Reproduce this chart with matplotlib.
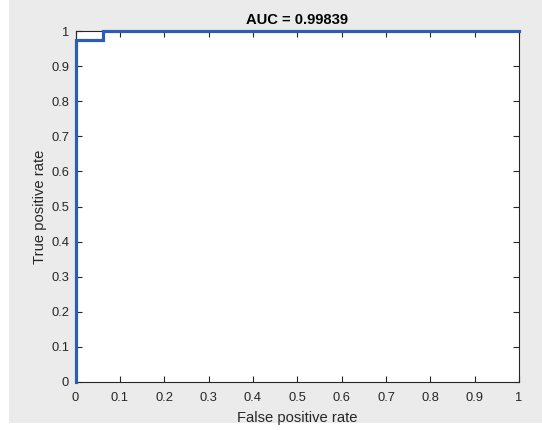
import matplotlib
matplotlib.use('Agg')
import matplotlib.pyplot as plt
from matplotlib.patches import Rectangle

# ROC curve points
fpr = [0.0, 0.0, 0.0625, 0.0625, 1.0]
tpr = [0.0, 0.9742, 0.9742, 1.0, 1.0]
auc = 0.99839
ticks = [0, 0.1, 0.2, 0.3, 0.4, 0.5, 0.6, 0.7, 0.8, 0.9, 1]
tick_labels = ['0', '0.1', '0.2', '0.3', '0.4', '0.5', '0.6', '0.7', '0.8', '0.9', '1']

plt.rcParams['font.family'] = ['Liberation Sans', 'DejaVu Sans']
dark = '#262626'

fig = plt.figure(figsize=(5.42, 4.30), dpi=100, facecolor='white')
# matlab-style grey window background
fig.patches.append(Rectangle((9 / 542, 7 / 430), 1 - 9 / 542, 1 - 7 / 430,
                             transform=fig.transFigure, facecolor='#ebebeb',
                             edgecolor='none', zorder=-10))

ax = fig.add_axes([75.5 / 542, 48 / 430, (519 - 75.5) / 542, (382 - 31) / 430])
ax.set_facecolor('white')
ax.plot(fpr, tpr, color='#2e5db8', linewidth=2.3, solid_joinstyle='miter', clip_on=False, zorder=5)

ax.set_xlim(0, 1)
ax.set_ylim(0, 1)
ax.set_xticks(ticks)
ax.set_xticklabels(tick_labels)
ax.set_yticks(ticks)
ax.set_yticklabels(tick_labels)
ax.tick_params(direction='in', length=4, width=0.8, color=dark, labelcolor=dark,
               labelsize=9.3, top=True, right=True)
ax.tick_params(axis='x', pad=7)
ax.tick_params(axis='y', pad=4.5)
for s in ax.spines.values():
    s.set_color(dark)
    s.set_linewidth(0.8)

ax.set_title('AUC = %.5f' % auc, fontsize=10.6, fontweight='bold', color='black', pad=5)
ax.set_xlabel('False positive rate', fontsize=10.6, color=dark, labelpad=5)
ax.set_ylabel('True positive rate', fontsize=10.6, color=dark, labelpad=3)

fig.savefig('out.png', dpi=100, facecolor=fig.get_facecolor())
